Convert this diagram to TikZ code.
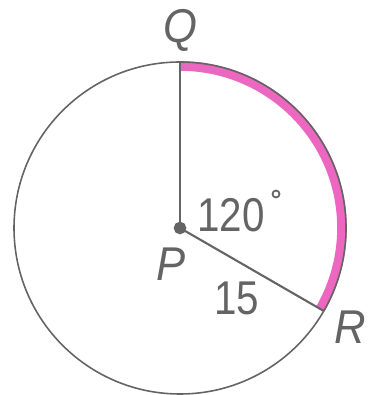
\documentclass[tikz,border=0pt]{standalone}
\usepackage{fontspec}
\setmainfont{Liberation Sans}
\usetikzlibrary{calc}
\definecolor{arcpink}{RGB}{236,104,192}
\definecolor{pengray}{RGB}{100,100,100}
\tikzset{lbl/.style={font=\fontsize{27}{30}\selectfont\itshape, text=pengray, xscale=0.92},
  num/.style={font=\fontsize{27}{30}\selectfont, text=pengray, xscale=0.85}}
\begin{document}
\begin{tikzpicture}[x=0.02cm,y=0.02cm,line width = 0.9pt]
\useasboundingbox (0,0) rectangle (368,395);
\coordinate (P) at (180,167);
\coordinate (Q) at (180,333);
\coordinate (R) at ($(P)+(-30:166)$);
\draw [color=arcpink,line width=5.5pt] ($(P)+(90:162)$) arc [start angle=90,end angle=-30,radius=162];
\draw [color=pengray] (P) circle [radius = 166];
\draw [color=pengray,line width=1.2pt] (P) -- (Q);
\draw [color=pengray,line width=1.2pt] (P) -- (R);
\filldraw[color=pengray] (P) circle [radius = 5.5];
\node[lbl] (labQ) at (180,365) {Q};
\node[lbl] (labP) at (171,131) {P};
\node[lbl] (labR) at (350,68) {R};
\node[num] (ang) at (231,180) {120};
\draw [color=pengray,line width=1pt] (276,201) circle [radius = 3.5];
\node[num] (len) at (237,97) {15};
\end{tikzpicture}
\end{document}
